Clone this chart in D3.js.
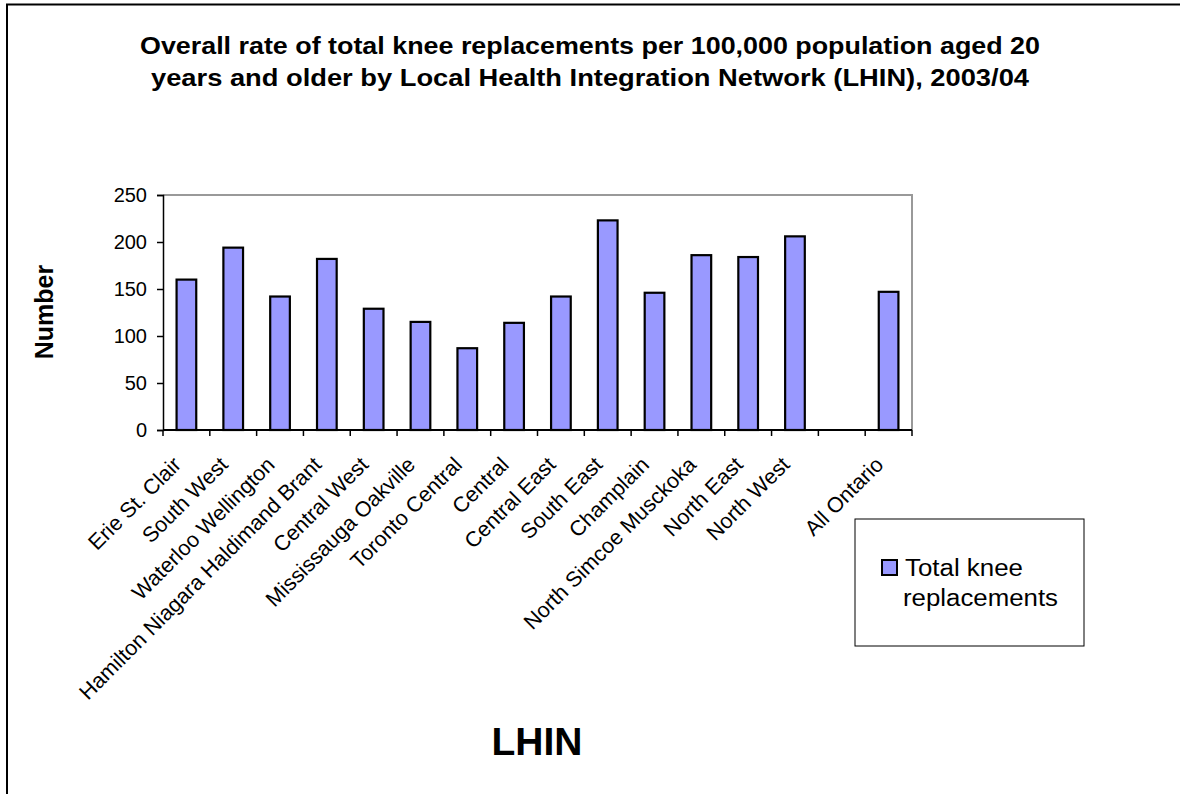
<!DOCTYPE html>
<html>
<head>
<meta charset="utf-8">
<script src="https://cdn.jsdelivr.net/npm/d3@7"></script>
<style>
  html, body { margin: 0; padding: 0; background: #fff; }
  svg { display: block; }
  text { font-family: "Liberation Sans", Arial, sans-serif; fill: #000; }
</style>
</head>
<body>
<svg id="chart" width="1180" height="794"></svg>
<script>
const categories = [
  "Erie St. Clair", "South West", "Waterloo Wellington", "Hamilton Niagara Haldimand Brant",
  "Central West", "Mississauga Oakville", "Toronto Central", "Central", "Central East",
  "South East", "Champlain", "North Simcoe Musckoka", "North East", "North West", " ", "All Ontario"
];
const values = [160, 194, 142, 182, 129, 115, 87, 114, 142, 223, 146, 186, 184, 206, null, 147];
const yTicks = [0, 50, 100, 150, 200, 250];
const titleLines = [
  "Overall rate of total knee replacements per 100,000 population aged 20",
  "years and older by Local Health Integration Network (LHIN), 2003/04"
];
const seriesName = ["Total knee", "replacements"];

const svg = d3.select("#chart");

// outer frame (top and left edges)
svg.append("line").attr("x1", 6).attr("x2", 1180).attr("y1", 4.5).attr("y2", 4.5)
  .attr("stroke", "#000").attr("stroke-width", 2);
svg.append("line").attr("x1", 7).attr("x2", 7).attr("y1", 4).attr("y2", 794)
  .attr("stroke", "#000").attr("stroke-width", 2);

const plot = { left: 163, right: 912, top: 195, bottom: 430 };

const x = d3.scaleBand().domain(categories).range([plot.left, plot.right]).paddingInner(0).paddingOuter(0);
const y = d3.scaleLinear().domain([0, 250]).range([plot.bottom, plot.top]);

// plot border top & right (gray)
svg.append("path")
  .attr("d", `M${plot.left},${plot.top}H${plot.right}V${plot.bottom}`)
  .attr("fill", "none").attr("stroke", "#999").attr("stroke-width", 2);

// bars
const bw = x.bandwidth() * 0.42;
svg.append("g").selectAll("rect")
  .data(categories.map((c, i) => ({ c, v: values[i] })).filter(d => d.v != null))
  .join("rect")
  .attr("x", d => x(d.c) + (x.bandwidth() - bw) / 2)
  .attr("y", d => y(d.v))
  .attr("width", bw)
  .attr("height", d => y(0) - y(d.v))
  .attr("fill", "#9999ff")
  .attr("stroke", "#000")
  .attr("stroke-width", 2.2);

// y axis
const yAxis = svg.append("g").attr("transform", `translate(${plot.left},0)`)
  .call(d3.axisLeft(y).tickValues(yTicks).tickSize(6).tickPadding(10));
yAxis.select(".domain").attr("stroke", "#000").attr("stroke-width", 1.5);
yAxis.selectAll(".tick line").attr("stroke", "#000").attr("stroke-width", 1.5);
yAxis.selectAll(".tick text").style("font-size", "20px").attr("fill", "#000");

// x axis line and ticks at band boundaries
svg.append("line").attr("x1", plot.left).attr("x2", plot.right)
  .attr("y1", plot.bottom).attr("y2", plot.bottom)
  .attr("stroke", "#000").attr("stroke-width", 2);
const boundaries = categories.map(c => x(c)).concat([x.range()[1]]);
svg.append("g").selectAll("line").data(boundaries).join("line")
  .attr("x1", d => d).attr("x2", d => d)
  .attr("y1", plot.bottom).attr("y2", plot.bottom + 6)
  .attr("stroke", "#000").attr("stroke-width", 1.5);

// x labels rotated
svg.append("g").selectAll("text").data(categories).join("text")
  .attr("transform", c => `translate(${x(c) + x.bandwidth() / 2 - 4},${plot.bottom + 36}) rotate(-45)`)
  .attr("text-anchor", "end")
  .style("font-size", "21.5px")
  .text(c => c);

// title
const titleWidths = [900, 878];
svg.append("g").selectAll("text").data(titleLines).join("text")
  .attr("x", 590).attr("y", (d, i) => 54 + i * 32)
  .attr("text-anchor", "middle")
  .attr("textLength", (d, i) => titleWidths[i])
  .attr("lengthAdjust", "spacingAndGlyphs")
  .style("font-size", "23px").style("font-weight", "bold")
  .text(d => d);

// y axis title
svg.append("text")
  .attr("transform", "translate(53,312) rotate(-90)")
  .attr("text-anchor", "middle")
  .style("font-size", "25px").style("font-weight", "bold")
  .text("Number");

// x axis title
svg.append("text")
  .attr("x", 537).attr("y", 755)
  .attr("text-anchor", "middle")
  .style("font-size", "39px").style("font-weight", "bold")
  .text("LHIN");

// legend
svg.append("rect").attr("x", 855).attr("y", 519).attr("width", 229).attr("height", 127)
  .attr("fill", "#fff").attr("stroke", "#000").attr("stroke-width", 1);
svg.append("rect").attr("x", 882).attr("y", 560).attr("width", 15).attr("height", 15)
  .attr("fill", "#9999ff").attr("stroke", "#000").attr("stroke-width", 2);
const legendWidths = [118, 155];
svg.append("g").selectAll("text").data(seriesName).join("text")
  .attr("x", (d, i) => i === 0 ? 905 : 903).attr("y", (d, i) => 576 + i * 30)
  .attr("textLength", (d, i) => legendWidths[i])
  .attr("lengthAdjust", "spacingAndGlyphs")
  .style("font-size", "23px")
  .text(d => d);
</script>
</body>
</html>
